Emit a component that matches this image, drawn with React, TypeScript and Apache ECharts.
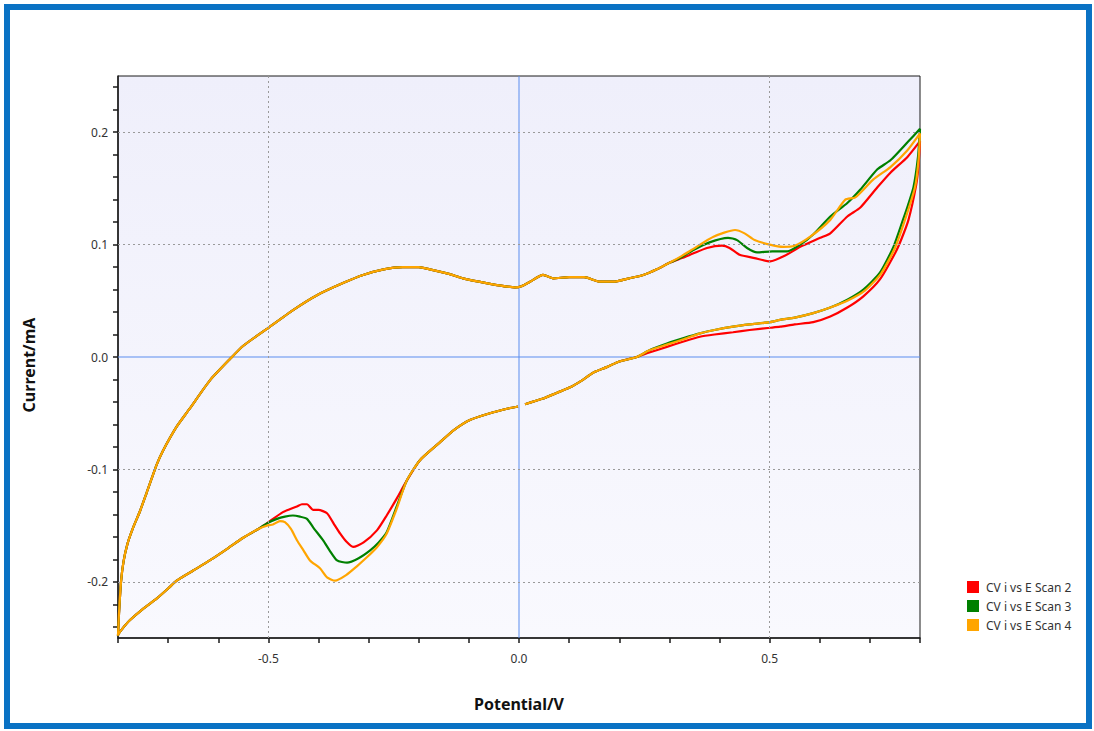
import React, { useEffect, useRef } from "react";
import * as echarts from "echarts";

// ---- Data (Potential/V, Current/mA) ----
const seriesNames = ["CV i vs E Scan 2", "CV i vs E Scan 3", "CV i vs E Scan 4"];
const seriesColors = ["#ff0000", "#008000", "#ffa500"];

const xMin = -0.8;
const xMax = 0.8;
const yMin = -0.25;
const yMax = 0.25;
const xTickValues = [-0.8, -0.7, -0.6, -0.5, -0.4, -0.3, -0.2, -0.1, 0, 0.1, 0.2, 0.3, 0.4, 0.5, 0.6, 0.7, 0.8];
const xLabelValues = [-0.5, 0, 0.5];
const yTickValues = [-0.24, -0.22, -0.2, -0.18, -0.16, -0.14, -0.12, -0.1, -0.08, -0.06, -0.04, -0.02, 0, 0.02, 0.04, 0.06, 0.08, 0.1, 0.12, 0.14, 0.16, 0.18, 0.2, 0.22, 0.24];
const yLabelValues = [-0.2, -0.1, 0, 0.1, 0.2];

// shared forward sweep (-0.8 V -> ~0.3 V)
const forwardCommon: (number | string)[][] = [
  [-0.8, -0.248], [-0.798, -0.228], [-0.794, -0.2], [-0.789, -0.182], [-0.781, -0.166],
  [-0.77, -0.152], [-0.756, -0.137], [-0.743, -0.121], [-0.723, -0.096], [-0.711, -0.084],
  [-0.683, -0.062], [-0.657, -0.046], [-0.617, -0.021], [-0.577, -0.002], [-0.55, 0.01],
  [-0.5, 0.026], [-0.45, 0.042], [-0.403, 0.055], [-0.35, 0.066], [-0.311, 0.073],
  [-0.27, 0.078], [-0.232, 0.08], [-0.2, 0.08], [-0.178, 0.078], [-0.14, 0.074],
  [-0.112, 0.07], [-0.08, 0.067], [-0.044, 0.064], [-0.008, 0.062], [0.005, 0.063],
  [0.022, 0.067], [0.048, 0.073], [0.068, 0.07], [0.1, 0.071], [0.13, 0.071],
  [0.162, 0.067], [0.188, 0.067], [0.22, 0.07], [0.248, 0.073], [0.275, 0.078],
  [0.301, 0.084],
];

// forward sweep tails (0.32 V -> 0.8 V)
const scan2ForwardTail = [
  [0.325, 0.088], [0.347, 0.092], [0.375, 0.097], [0.405, 0.099], [0.42, 0.097], [0.44, 0.091],
  [0.47, 0.088], [0.501, 0.085], [0.53, 0.09], [0.561, 0.098], [0.601, 0.106],
  [0.621, 0.11], [0.655, 0.125], [0.681, 0.133], [0.715, 0.151], [0.741, 0.164],
  [0.775, 0.178], [0.8, 0.192],
];
const scan3ForwardTail = [
  [0.325, 0.089], [0.347, 0.095], [0.38, 0.102], [0.417, 0.106], [0.435, 0.104], [0.455, 0.097],
  [0.475, 0.093], [0.505, 0.094], [0.535, 0.094], [0.561, 0.1], [0.587, 0.109],
  [0.621, 0.125], [0.655, 0.137], [0.681, 0.149], [0.715, 0.167], [0.741, 0.175],
  [0.775, 0.191], [0.8, 0.203],
];
const scan4ForwardTail = [
  [0.325, 0.09], [0.347, 0.096], [0.388, 0.107], [0.431, 0.113], [0.45, 0.11], [0.47, 0.104],
  [0.5, 0.1], [0.527, 0.098], [0.55, 0.099], [0.581, 0.107], [0.621, 0.122],
  [0.651, 0.14], [0.671, 0.142], [0.707, 0.158], [0.741, 0.169], [0.775, 0.184],
  [0.8, 0.199],
];

// reverse sweep heads (0.8 V -> 0.26 V)
const scan2ReverseHead = [
  [0.797, 0.17], [0.792, 0.152], [0.777, 0.122], [0.763, 0.105], [0.751, 0.093],
  [0.72, 0.069], [0.687, 0.054], [0.655, 0.044], [0.621, 0.036], [0.587, 0.031],
  [0.55, 0.029], [0.521, 0.027], [0.501, 0.026], [0.46, 0.024], [0.427, 0.022],
  [0.39, 0.02], [0.361, 0.018], [0.33, 0.014], [0.295, 0.009], [0.26, 0.004],
];
const scan3ReverseHead = [
  [0.796, 0.178], [0.787, 0.151], [0.776, 0.135], [0.766, 0.122], [0.747, 0.098],
  [0.72, 0.075], [0.687, 0.06], [0.655, 0.051], [0.621, 0.044], [0.587, 0.039],
  [0.55, 0.035], [0.521, 0.033], [0.501, 0.031], [0.46, 0.029], [0.427, 0.027],
  [0.39, 0.024], [0.361, 0.021], [0.33, 0.017], [0.295, 0.012], [0.26, 0.006],
];
const scan4ReverseHead = [
  [0.797, 0.175], [0.79, 0.151], [0.77, 0.122], [0.75, 0.097], [0.722, 0.074],
  [0.69, 0.059], [0.655, 0.05], [0.621, 0.044], [0.587, 0.039], [0.55, 0.035],
  [0.521, 0.033], [0.501, 0.031], [0.46, 0.029], [0.427, 0.027], [0.39, 0.024],
  [0.361, 0.021], [0.33, 0.016], [0.295, 0.011], [0.26, 0.006],
];

// shared reverse middle (0.235 V -> -0.224 V), with the short break near 0 V
const reverseMiddle: (number | string)[][] = [
  [0.235, 0.0], [0.2, -0.004], [0.175, -0.009], [0.148, -0.014], [0.125, -0.021],
  [0.102, -0.027], [0.075, -0.032], [0.048, -0.037], [0.012, -0.042], [0.005, "-"],
  [-0.002, -0.044], [-0.024, -0.046], [-0.058, -0.05], [-0.098, -0.056], [-0.13, -0.065],
  [-0.158, -0.076], [-0.198, -0.092], [-0.224, -0.11],
];

// reverse sweep tails (-0.24 V -> -0.5 V)
const scan2ReverseTail = [
  [-0.244, -0.126], [-0.264, -0.141], [-0.283, -0.154], [-0.31, -0.165], [-0.331, -0.169],
  [-0.345, -0.164], [-0.357, -0.157], [-0.37, -0.148], [-0.383, -0.139], [-0.4, -0.136],
  [-0.411, -0.136], [-0.423, -0.131], [-0.433, -0.131], [-0.443, -0.133], [-0.471, -0.138],
  [-0.503, -0.148],
];
const scan3ReverseTail = [
  [-0.244, -0.133], [-0.264, -0.156], [-0.28, -0.165], [-0.297, -0.172], [-0.32, -0.179],
  [-0.343, -0.183], [-0.363, -0.181], [-0.378, -0.172], [-0.391, -0.163], [-0.41, -0.152],
  [-0.423, -0.144], [-0.437, -0.142], [-0.451, -0.141], [-0.467, -0.142], [-0.483, -0.144],
  [-0.503, -0.148],
];
const scan4ReverseTail = [
  [-0.244, -0.135], [-0.265, -0.158], [-0.283, -0.169], [-0.303, -0.178], [-0.323, -0.186],
  [-0.345, -0.194], [-0.367, -0.199], [-0.383, -0.196], [-0.397, -0.188], [-0.417, -0.181],
  [-0.43, -0.172], [-0.443, -0.163], [-0.455, -0.153], [-0.467, -0.147], [-0.477, -0.146],
  [-0.491, -0.149], [-0.503, -0.15],
];

// shared reverse end (-0.52 V -> -0.8 V)
const reverseEnd = [
  [-0.52, -0.153], [-0.551, -0.161], [-0.58, -0.17], [-0.617, -0.181], [-0.65, -0.19],
  [-0.683, -0.199], [-0.7, -0.206], [-0.723, -0.215], [-0.75, -0.224], [-0.776, -0.234],
  [-0.79, -0.241], [-0.8, -0.247],
];

const scanData = [
  [...forwardCommon, ...scan2ForwardTail, ...scan2ReverseHead, ...reverseMiddle, ...scan2ReverseTail, ...reverseEnd],
  [...forwardCommon, ...scan3ForwardTail, ...scan3ReverseHead, ...reverseMiddle, ...scan3ReverseTail, ...reverseEnd],
  [...forwardCommon, ...scan4ForwardTail, ...scan4ReverseHead, ...reverseMiddle, ...scan4ReverseTail, ...reverseEnd],
];

const gridXLines = [-0.5, 0.5];
const gridYLines = [-0.2, -0.1, 0.1, 0.2];

const FONT = "'Noto Sans', 'Open Sans', sans-serif";

export default function App() {
  const ref = useRef<HTMLDivElement>(null);

  useEffect(() => {
    if (!ref.current) return;
    const chart = echarts.init(ref.current, undefined, { renderer: "svg" });

    const zeroLineSeries = (data: number[][]) => ({
      type: "line",
      data,
      silent: true,
      showSymbol: false,
      symbol: "none",
      z: 1,
      lineStyle: { color: "#5b8def", width: 1, type: "solid" },
      itemStyle: { color: "#5b8def" },
      emphasis: { disabled: true },
      tooltip: { show: false },
    });

    const option: any = {
      animation: false,
      backgroundColor: "#ffffff",
      textStyle: { fontFamily: FONT },
      grid: {
        left: 118,
        right: 174,
        top: 76,
        bottom: 93,
        show: true,
        borderColor: "#1a1a1a",
        borderWidth: 1,
        backgroundColor: new echarts.graphic.LinearGradient(0, 0, 0, 1, [
          { offset: 0, color: "#efeffb" },
          { offset: 1, color: "#f9f9fe" },
        ]),
      },
      legend: {
        orient: "vertical",
        left: 967,
        top: 581,
        padding: 0,
        itemWidth: 12,
        itemHeight: 12,
        itemGap: 7,
        icon: "rect",
        data: seriesNames,
        textStyle: { fontSize: 12, color: "#333", fontFamily: FONT, padding: [0, 0, 0, 2] },
      },
      xAxis: {
        type: "value",
        min: xMin,
        max: xMax,
        name: "Potential/V",
        nameLocation: "middle",
        nameGap: 58,
        nameTextStyle: { fontSize: 16, fontWeight: "bold", color: "#111", fontFamily: FONT },
        axisLine: { show: true, onZero: false, lineStyle: { color: "#1a1a1a", width: 1.5 } },
        axisTick: { show: true, length: 5, customValues: xTickValues, lineStyle: { color: "#1a1a1a", width: 1.5 } },
        axisLabel: {
          customValues: xLabelValues,
          margin: 14,
          fontSize: 12,
          color: "#333",
          fontFamily: FONT,
          formatter: (v: number) => v.toFixed(1),
        },
        splitLine: { show: false },
      },
      yAxis: {
        type: "value",
        min: yMin,
        max: yMax,
        name: "Current/mA",
        nameLocation: "middle",
        nameGap: 81,
        nameRotate: 90,
        nameTextStyle: { fontSize: 16, fontWeight: "bold", color: "#111", fontFamily: FONT, padding: [0, 16, 0, 0] },
        axisLine: { show: true, onZero: false, lineStyle: { color: "#1a1a1a", width: 1.5 } },
        axisTick: { show: true, length: 5, customValues: yTickValues, lineStyle: { color: "#1a1a1a", width: 1.5 } },
        axisLabel: {
          customValues: yLabelValues,
          margin: 10,
          fontSize: 12,
          color: "#333",
          fontFamily: FONT,
          formatter: (v: number) => v.toFixed(1),
        },
        splitLine: { show: false },
      },
      graphic: [
        {
          type: "rect",
          shape: { x: 7, y: 7, width: 1082, height: 719 },
          style: { fill: "none", stroke: "#0a72c4", lineWidth: 6 },
          silent: true,
          z: 100,
        },
      ],
      series: [
        {
          name: "gridDashed",
          type: "line",
          data: [],
          silent: true,
          z: 1,
          markLine: {
            silent: true,
            symbol: ["none", "none"],
            label: { show: false },
            animation: false,
            emphasis: { disabled: true },
            lineStyle: { color: "#9a9a9a", width: 1, type: [2, 3] },
            data: [
              ...gridXLines.map((v) => ({ xAxis: v })),
              ...gridYLines.map((v) => ({ yAxis: v })),
            ],
          },
        },
        zeroLineSeries([[0, yMin], [0, yMax]]),
        zeroLineSeries([[xMin, 0], [xMax, 0]]),
        ...seriesNames.map((name, i) => ({
          name,
          type: "line",
          data: scanData[i],
          showSymbol: false,
          symbol: "none",
          smooth: 0.2,
          connectNulls: false,
          z: 2 + i,
          lineStyle: { color: seriesColors[i], width: 2.2 },
          itemStyle: { color: seriesColors[i] },
          emphasis: { disabled: true },
        })),
      ],
    };

    chart.setOption(option);
    return () => chart.dispose();
  }, []);

  return (
    <div
      ref={ref}
      style={{ position: "fixed", left: 0, top: 0, width: 1094, height: 731 }}
    />
  );
}
